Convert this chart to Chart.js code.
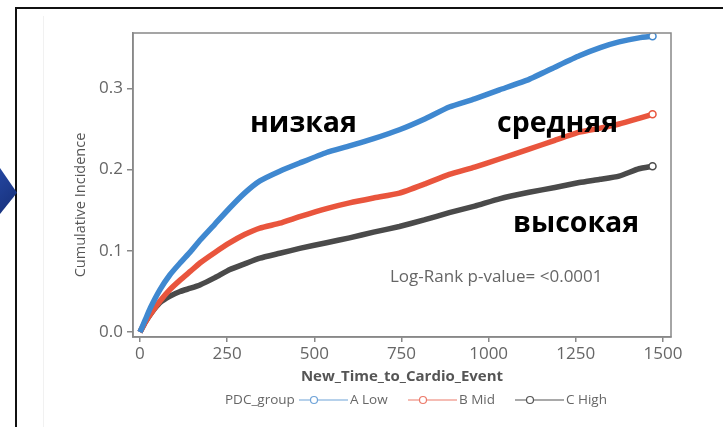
<!DOCTYPE html>
<html>
<head>
<meta charset="utf-8">
<script src="https://cdn.jsdelivr.net/npm/chart.js@4/dist/chart.umd.min.js"></script>
<style>
  html, body { margin: 0; padding: 0; background: #fff; }
  #wrap { position: relative; width: 723px; height: 427px; overflow: hidden; }
  #frame { position: absolute; left: 15px; top: 7px; width: 800px; height: 500px;
    border-top: 2px solid #111; border-left: 2px solid #111; }
  #faint { position: absolute; left: 43px; top: 16px; width: 1px; height: 420px; background: #f1f1f1; }
  #arrow { position: absolute; left: 0; top: 168px; width: 17px; height: 46px;
    background: linear-gradient(135deg, #2446a0, #162f78);
    clip-path: polygon(0 0, 100% 54%, 0 100%); }
  #chart { position: absolute; left: 0; top: 0; }
</style>
</head>
<body>
<div id="wrap">
  <div id="frame"></div>
  <div id="faint"></div>
  <div id="arrow"></div>
  <canvas id="chart" width="723" height="427"></canvas>
</div>
<script>
// days since start
const timeDays = [0, 15, 30, 57, 85, 115, 145, 172, 215, 258, 300, 344, 401, 458, 535, 601, 670, 744, 815, 887, 960, 1031, 1116, 1190, 1260, 1320, 1374, 1431, 1470];

// cumulative incidence per PDC group
const lowGroup  = [0, 0.015, 0.030, 0.052, 0.070, 0.085, 0.099, 0.113, 0.133, 0.153, 0.171, 0.186, 0.198, 0.208, 0.221, 0.229, 0.238, 0.249, 0.262, 0.277, 0.287, 0.298, 0.311, 0.326, 0.340, 0.350, 0.357, 0.362, 0.364];
const midGroup  = [0, 0.012, 0.022, 0.038, 0.052, 0.064, 0.075, 0.085, 0.098, 0.110, 0.120, 0.128, 0.134, 0.142, 0.152, 0.159, 0.165, 0.171, 0.182, 0.194, 0.203, 0.213, 0.225, 0.236, 0.246, 0.251, 0.256, 0.263, 0.268];
const highGroup = [0, 0.012, 0.022, 0.036, 0.044, 0.050, 0.054, 0.058, 0.067, 0.077, 0.084, 0.091, 0.097, 0.103, 0.110, 0.116, 0.123, 0.130, 0.138, 0.147, 0.155, 0.164, 0.172, 0.178, 0.184, 0.188, 0.192, 0.201, 0.204];

const groupLabels = ['A Low', 'B Mid', 'C High'];
const xTicks = [0, 250, 500, 750, 1000, 1250, 1500];
const yTicks = [0, 0.1, 0.2, 0.3];

const lineColors = ['#3f88d0', '#e9553d', '#4a4a4a'];
const legendColors = ['#6fa3d8', '#ec7a6a', '#555555'];

const toPoints = values => timeDays.map((x, i) => ({ x, y: values[i] }));

function makeDataset(label, values, color) {
  return {
    label,
    data: toPoints(values),
    borderColor: color,
    backgroundColor: 'rgba(255,255,255,0)',
    borderWidth: 5.5,
    tension: 0.15,
    pointRadius: ctx => ctx.dataIndex === timeDays.length - 1 ? 3.5 : 0,
    pointBorderWidth: 1.5,
    pointBorderColor: color,
    pointBackgroundColor: '#fff'
  };
}

// box around plot, y title, inline legend and text labels
const extrasPlugin = {
  id: 'extras',
  afterDraw(chart) {
    const { ctx, chartArea: a } = chart;
    ctx.save();
    ctx.strokeStyle = '#888';
    ctx.lineWidth = 1.5;
    ctx.strokeRect(a.left, a.top, a.right - a.left, a.bottom - a.top);

    // y axis title (sits a bit below the middle in the original)
    ctx.save();
    ctx.translate(81, 205);
    ctx.rotate(-Math.PI / 2);
    ctx.fillStyle = '#555';
    ctx.font = '14.5px "Open Sans"';
    ctx.textAlign = 'center';
    ctx.textBaseline = 'middle';
    ctx.fillText('Cumulative Incidence', 0, 0);
    ctx.restore();

    // group labels
    ctx.fillStyle = '#000';
    ctx.font = 'bold 28.5px "Open Sans"';
    ctx.textBaseline = 'alphabetic';
    ctx.fillText('низкая', 250, 132);
    ctx.fillText('средняя', 497, 132);
    ctx.fillText('высокая', 513, 232);

    ctx.fillStyle = '#666';
    ctx.font = '17px "Open Sans"';
    ctx.fillText('Log-Rank p-value= <0.0001', 390, 282);

    // legend
    const ly = 400;
    ctx.font = '13.5px "Open Sans"';
    ctx.textBaseline = 'middle';
    ctx.fillStyle = '#666';
    ctx.fillText('PDC_group', 225, ly);
    const starts = [299, 408, 515];
    chart.data.datasets.forEach((ds, i) => {
      const x0 = starts[i];
      ctx.strokeStyle = legendColors[i];
      ctx.lineWidth = 1.2;
      ctx.beginPath();
      ctx.moveTo(x0, ly);
      ctx.lineTo(x0 + 49, ly);
      ctx.stroke();
      ctx.fillStyle = '#fff';
      ctx.beginPath();
      ctx.arc(x0 + 15, ly, 3.5, 0, Math.PI * 2);
      ctx.fill();
      ctx.stroke();
      ctx.fillStyle = '#666';
      ctx.fillText(ds.label, x0 + 51, ly);
    });
    ctx.restore();
  }
};

new Chart(document.getElementById('chart'), {
  type: 'line',
  data: {
    datasets: [
      makeDataset(groupLabels[0], lowGroup, lineColors[0]),
      makeDataset(groupLabels[1], midGroup, lineColors[1]),
      makeDataset(groupLabels[2], highGroup, lineColors[2])
    ]
  },
  options: {
    responsive: false,
    animation: false,
    layout: { padding: { left: 66, top: 33, right: 52, bottom: 40 } },
    plugins: { legend: { display: false }, tooltip: { enabled: false } },
    scales: {
      x: {
        type: 'linear',
        min: -20,
        max: 1523,
        afterFit: s => { s.height = 50; },
        afterBuildTicks: s => { s.ticks = xTicks.map(v => ({ value: v })); },
        grid: { drawOnChartArea: false, color: '#888', tickLength: 5, lineWidth: 1.5 },
        border: { color: '#888', width: 1.5 },
        ticks: { color: '#666', padding: 2, font: { family: 'Open Sans', size: 17 }, maxRotation: 0, callback: v => String(v) },
        title: {
          display: true,
          text: 'New_Time_to_Cardio_Event',
          color: '#555',
          font: { family: 'Open Sans', size: 15, weight: 'bold' },
          padding: { top: 0, bottom: 1 }
        }
      },
      y: {
        min: -0.006,
        max: 0.368,
        afterFit: s => { s.width = 67; },
        afterBuildTicks: s => { s.ticks = yTicks.map(v => ({ value: v })); },
        grid: { drawOnChartArea: false, color: '#888', tickLength: 6, lineWidth: 1.5 },
        border: { color: '#888', width: 1.5 },
        ticks: { color: '#666', padding: 4, font: { family: 'Open Sans', size: 17 }, callback: v => v.toFixed(1) }
      }
    }
  },
  plugins: [extrasPlugin]
});
</script>
</body>
</html>
